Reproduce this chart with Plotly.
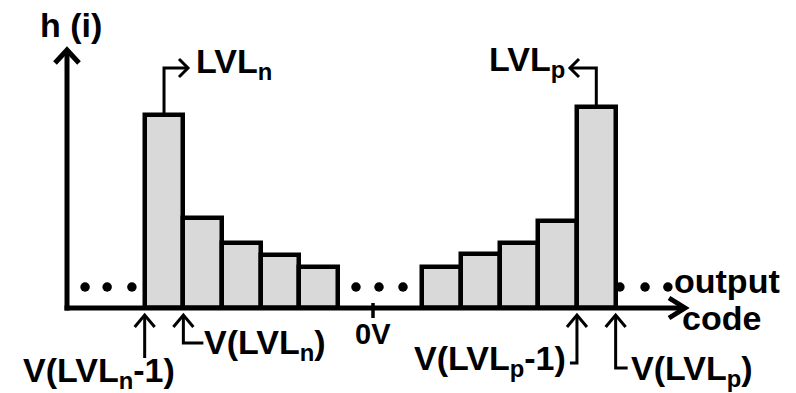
import plotly.graph_objects as go

# ---- data -------------------------------------------------------------
codes_n = [-5.4, -4.4, -3.4, -2.4, -1.4]      # output codes near LVLn
hist_n = [19.3, 9.0, 6.5, 5.3, 4.1]           # h(i)
codes_p = [1.77, 2.77, 3.77, 4.77, 5.77]      # output codes near LVLp
hist_p = [4.1, 5.4, 6.5, 8.7, 20.1]           # h(i)
dots_x = [-7.44, -6.87, -6.23, -0.44, 0.155, 0.775, 6.38, 7.03, 7.62]
dots_y = [2.1] * len(dots_x)

# ---- scale helpers (pixels per unit) -----------------------------------
UX = 38.7      # px per code
UY = 10.0      # px per count
W, H = 796, 393
X0PX, Y0PX = 373, 308


def px(xp):
    return (xp - X0PX) / UX


def py(yp):
    return (Y0PX - yp) / UY


def dx(d):
    return d / UX


def dy(d):
    return d / UY


FONT = "Liberation Sans, Arial, sans-serif"
BLACK = "black"

fig = go.Figure()
fig.add_trace(go.Bar(
    x=codes_n + codes_p, y=hist_n + hist_p, width=1,
    marker=dict(color="#d9d9d9", line=dict(color=BLACK, width=4.5)),
    hoverinfo="skip"))
fig.add_trace(go.Scatter(
    x=dots_x, y=dots_y, mode="markers",
    marker=dict(color=BLACK, size=9.5), hoverinfo="skip"))

shapes = []


def line(points, width):
    d = "M " + " L ".join(f"{x},{y}" for x, y in points)
    shapes.append(dict(type="path", path=d, xref="x", yref="y",
                       line=dict(color=BLACK, width=width)))


# axes
yax_x = px(67)
yax_top = py(50)
xax_end = px(685)
line([(yax_x, -dy(2.5)), (yax_x, yax_top)], 5)
line([(yax_x - dx(12), yax_top - dy(13)), (yax_x, yax_top),
      (yax_x + dx(12), yax_top - dy(13))], 5)
line([(yax_x - dx(2.5), 0), (xax_end, 0)], 5)
line([(xax_end - dx(16), dy(10)), (xax_end, 0),
      (xax_end - dx(16), -dy(10))], 5)

# 0V tick
line([(0, dy(5)), (0, -dy(10))], 3.5)

# edge arrows below the axis
tip = -dy(7)


def up_arrow(x, path_below):
    line([(x, tip)] + path_below, 3)
    line([(x - dx(10), tip - dy(12)), (x, tip), (x + dx(10), tip - dy(12))], 3)


e1 = codes_n[0] - 0.5
e2 = codes_n[0] + 0.5
e3 = codes_p[-1] - 0.5
e4 = codes_p[-1] + 0.5
up_arrow(e1, [(e1, py(358))])
up_arrow(e2, [(e2, py(343)), (e2 + dx(20), py(343))])
up_arrow(e3, [(e3, py(363)), (e3 - dx(7), py(363))])
up_arrow(e4, [(e4, py(368)), (e4 + dx(12), py(368))])

# callouts from peak bars
cy = py(68)
xn_end = px(188)
line([(codes_n[0], hist_n[0]), (codes_n[0], cy), (xn_end, cy)], 3)
line([(xn_end - dx(9), cy + dy(9)), (xn_end, cy), (xn_end - dx(9), cy - dy(9))], 3)
xp_end = px(570)
line([(codes_p[-1], hist_p[-1]), (codes_p[-1], cy), (xp_end, cy)], 3)
line([(xp_end + dx(9), cy + dy(9)), (xp_end, cy), (xp_end + dx(9), cy - dy(9))], 3)

ann = []


def text(t, x, y, xanchor, size=34):
    ann.append(dict(text="<b>" + t + "</b>", x=x, y=y, xref="x", yref="y",
                    showarrow=False, xanchor=xanchor, yanchor="middle",
                    font=dict(family=FONT, size=size, color=BLACK)))


text("h (i)", px(71), py(25), "center")
text("LVL<sub>n</sub>", px(194), py(63), "left")
text("LVL<sub>p</sub>", px(567), py(61), "right")
text("0V", 0, py(334), "center", size=29)
text("V(LVL<sub>n</sub>)", px(202), py(344), "left")
text("V(LVL<sub>n</sub>-1)", px(99), py(372), "center")
text("V(LVL<sub>p</sub>-1)", px(568), py(360), "right")
text("V(LVL<sub>p</sub>)", px(629), py(370), "left")
text("output", px(672), py(281), "left")
text("code", px(680), py(318), "left")

fig.update_layout(
    width=W, height=H, margin=dict(l=0, r=0, t=0, b=0),
    paper_bgcolor="white", plot_bgcolor="white", showlegend=False,
    xaxis=dict(range=[px(0), px(W)], visible=False, fixedrange=True),
    yaxis=dict(range=[py(H), py(0)], visible=False, fixedrange=True),
    shapes=shapes, annotations=ann, bargap=0)

fig.write_html("out.html", config={"displayModeBar": False},
               post_script="document.body.style.margin='0';")
